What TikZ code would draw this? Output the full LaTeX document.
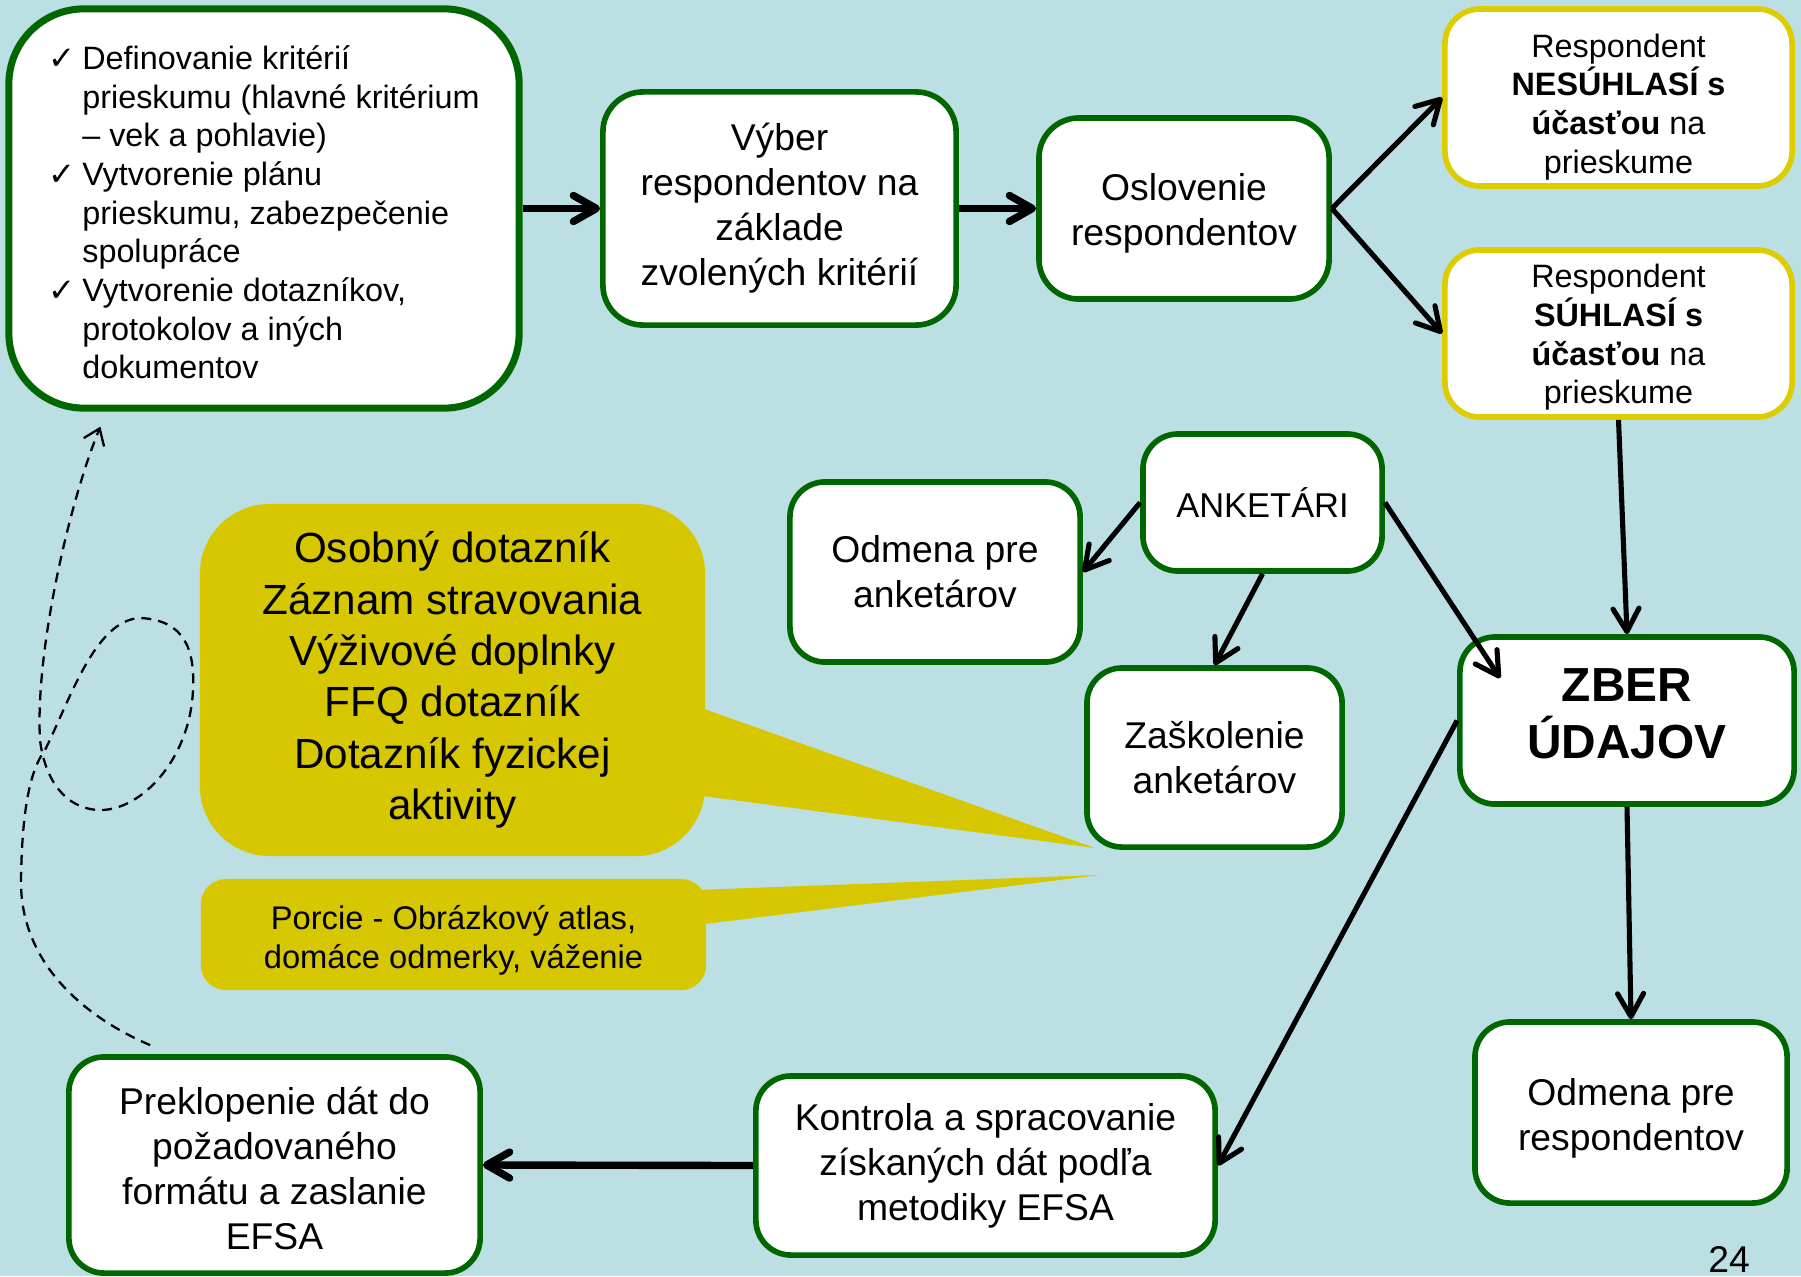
\documentclass[tikz,border=0pt]{standalone}
\usepackage{fontspec}
\setmainfont{Liberation Sans}
\newfontfamily\symfont{DejaVu Sans}
\usetikzlibrary{arrows.meta, calc}
\definecolor{bgblue}{HTML}{BBDFE3}
\definecolor{boxgreen}{HTML}{006600}
\definecolor{boxyellow}{HTML}{DDCC00}
\definecolor{callfill}{HTML}{D6C700}
\newcommand{\chk}{{\symfont ✓}}
% \up{h}: raise the top of a first line, so that the text sits lower in its box
\newcommand{\up}[1]{\rule{0pt}{#1}}
\tikzset{
    box/.style={draw=boxgreen, line width=1.6pt, fill=white, rounded corners=0.35cm,
        align=center, inner sep=0pt, font=\fontsize{10.6}{12.8}\selectfont},
    ybox/.style={box, draw=boxyellow, font=\fontsize{9.2}{11}\selectfont},
    callbox/.style={fill=callfill, align=center, inner sep=0pt},
    thinarr/.style={-{Straight Barb[length=2.3mm,width=2.6mm,round]}, line width=1.45pt},
    thickarr/.style={thinarr, line width=2.1pt},
    backarr/.style={-{Straight Barb[length=1.5mm,width=2.2mm]}, line width=0.65pt,
        dash pattern=on 1mm off 0.7mm}
}
\begin{document}
\begin{tikzpicture}[x=0.01cm, y=-0.01cm]
    \useasboundingbox (0,0) rectangle (1801,1276);
    \fill[bgblue] (0,0) rectangle (1801,1276);
    % callouts
    \coordinate (tipA) at (1095,848);
    \coordinate (tipB) at (1099,875);
    \node[callbox, rounded corners=0.7cm, minimum width=5.05cm, minimum height=3.52cm,
        font=\fontsize{12}{14.6}\selectfont] (callA) at (452.5,680)
        {Osobný dotazník\\ Záznam stravovania\\ Výživové doplnky\\ FFQ dotazník\\ Dotazník fyzickej\\ aktivity};
    \fill[callfill] ([xshift=-0.1cm, yshift=-0.26cm]callA.east) -- (tipA) -- ([xshift=-0.1cm, yshift=-1.15cm]callA.east) -- cycle;
    \node[callbox, rounded corners=0.25cm, minimum width=5.05cm, minimum height=1.11cm,
        font=\fontsize{9.3}{11.1}\selectfont] (callB) at (453.5,934.5)
        {\up{10pt}Porcie - Obrázkový atlas,\\ domáce odmerky, váženie};
    \fill[callfill] ([xshift=-0.1cm, yshift=0.445cm]callB.east) -- (tipB) -- ([xshift=-0.1cm, yshift=0.095cm]callB.east) -- cycle;
    % boxes
    \node[box, line width=2pt, rounded corners=0.75cm, minimum width=5.10cm, minimum height=3.99cm,
        align=left, font=\fontsize{9.2}{11}\selectfont] (crit) at (264,208.5)
        {\raisebox{-0.08cm}[\height][\depth]{\begin{tabular}{@{}p{0.34cm}@{}l@{}}
         \chk & Definovanie kritérií\\
              & prieskumu (hlavné kritérium\\
              & – vek a pohlavie)\\
         \chk & Vytvorenie plánu\\
              & prieskumu, zabezpečenie\\
              & spolupráce\\
         \chk & Vytvorenie dotazníkov,\\
              & protokolov a iných\\
              & dokumentov
         \end{tabular}}};
    \node[box, rounded corners=0.4cm, minimum width=3.53cm, minimum height=2.33cm] (vyber) at (779.5,208.5)
        {Výber\\ respondentov na\\ základe\\ zvolených kritérií};
    \node[box, rounded corners=0.4cm, minimum width=2.90cm, minimum height=1.81cm] (oslov) at (1184,208.5)
        {\up{10.3pt}Oslovenie\\ respondentov};
    \node[ybox, minimum width=3.47cm, minimum height=1.77cm] (nesuhl) at (1618.5,97.5)
        {\up{12pt}Respondent\\ \textbf{NESÚHLASÍ s}\\ \textbf{účasťou} na\\ prieskume};
    \node[ybox, minimum width=3.47cm, minimum height=1.67cm] (suhl) at (1618.5,333.5)
        {\up{9pt}Respondent\\ \textbf{SÚHLASÍ s}\\ \textbf{účasťou} na\\ prieskume};
    \node[box, minimum width=2.39cm, minimum height=1.37cm, font=\fontsize{9.8}{12}\selectfont] (anket) at (1262.5,502.5)
        {ANKETÁRI};
    \node[box, minimum width=2.90cm, minimum height=1.80cm] (odmA) at (935,572)
        {Odmena pre\\ anketárov};
    \node[box, minimum width=2.55cm, minimum height=1.79cm] (zask) at (1214.5,757.5)
        {Zaškolenie\\ anketárov};
    \node[box, minimum width=3.34cm, minimum height=1.67cm, font=\fontsize{13.6}{16.3}\selectfont\bfseries] (zber) at (1627,720.5)
        {ZBER\\ ÚDAJOV\rule[-4pt]{0pt}{0pt}};
    \node[box, minimum width=3.12cm, minimum height=1.81cm] (odmR) at (1631,1112.5)
        {\up{11pt}Odmena pre\\ respondentov};
    \node[box, minimum width=4.59cm, minimum height=1.79cm] (kontr) at (985.5,1165.5)
        {Kontrola a spracovanie\\ získaných dát podľa\\ metodiky EFSA};
    \node[box, minimum width=4.11cm, minimum height=2.16cm] (prekl) at (274.5,1165)
        {\up{9.7pt}Preklopenie dát do\\ požadovaného\\ formátu a zaslanie\\ EFSA};
    \node[font=\fontsize{10.6}{12}\selectfont, anchor=base] (pnum) at (1729,1272) {24};
    % connectors
    \draw[thickarr] (crit.east) -- (vyber.west);
    \draw[thickarr] (vyber.east) -- (oslov.west);
    \draw[thinarr] (oslov.east) -- (nesuhl.west);
    \draw[thinarr] (oslov.east) -- (suhl.west);
    \draw[thinarr] (suhl.south) -- (zber.north);
    \draw[thinarr] (anket.west) -- (odmA.east);
    \draw[thinarr] (anket.south) -- (zask.north);
    \draw[thinarr] (anket.east) -- ([xshift=0.43cm, yshift=-0.44cm]zber.north west);
    \draw[thinarr] (zber.west) -- (kontr.east);
    \draw[thinarr] (zber.south) -- (odmR.north);
    \draw[thickarr] (kontr.west) -- (prekl.east);
    \draw[backarr] ([xshift=0.84cm, yshift=0.09cm]prekl.north west)
        .. controls (80,1015) and (20,960) .. (21,880)
        .. controls (22,810) and (30,770) .. (45,750)
        .. controls (70,700) and (95,620) .. (140,618)
        .. controls (185,620) and (195,650) .. (193,690)
        .. controls (190,760) and (140,812) .. (98,810)
        .. controls (65,808) and (45,780) .. (40,740)
        .. controls (35,650) and (70,500) .. ([xshift=0.95cm, yshift=-0.15cm]crit.south west);
\end{tikzpicture}
\end{document}
